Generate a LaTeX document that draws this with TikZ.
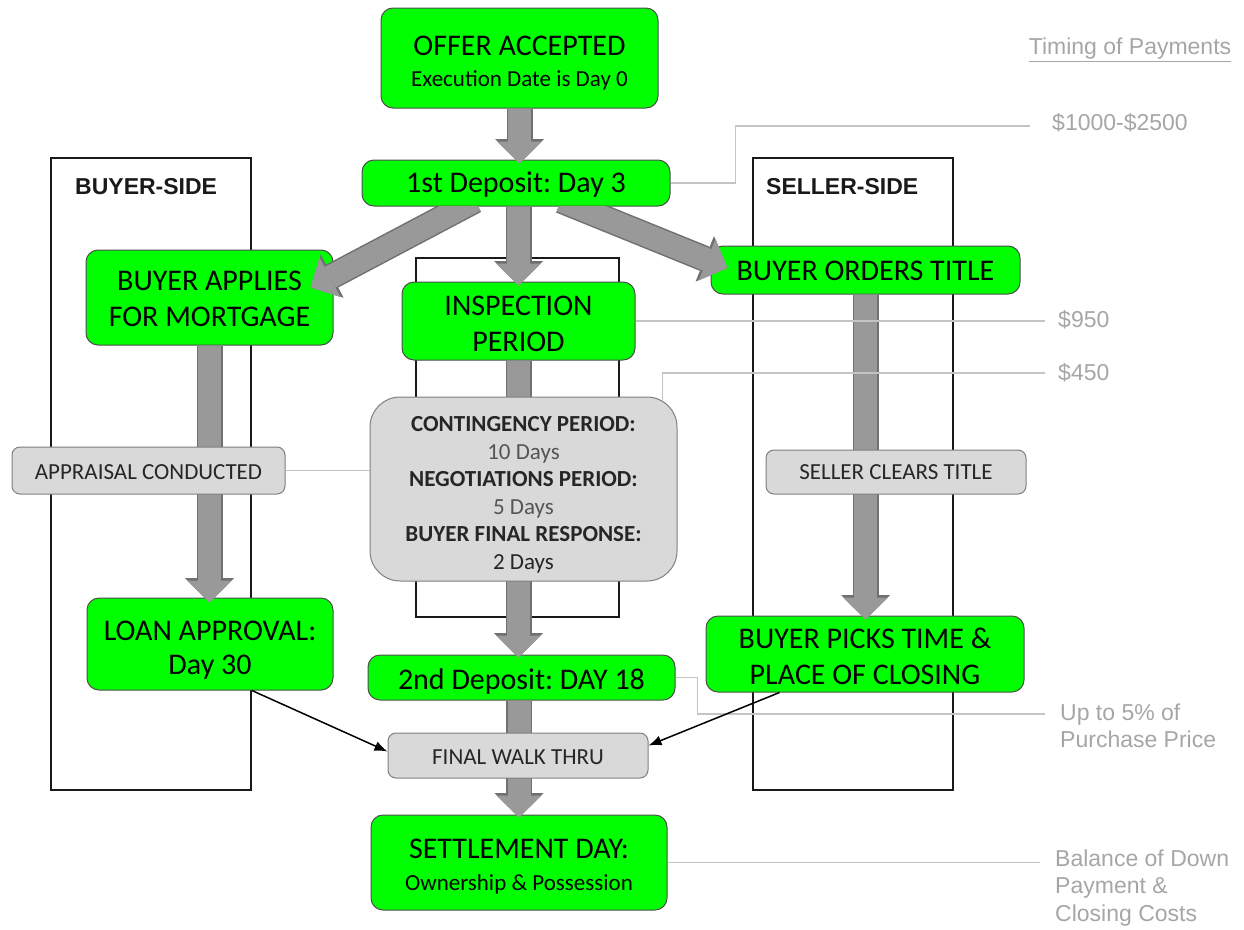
\documentclass[tikz,border=0pt]{standalone}
\usepackage{fontspec}
\setmainfont{Carlito}
\newfontfamily\arialf{Liberation Sans}
\usetikzlibrary{arrows.meta,calc}
\frenchspacing
\definecolor{boxgreen}{HTML}{00FF00}
\definecolor{boxline}{HTML}{4D4D4D}
\definecolor{boxgray}{HTML}{D9D9D9}
\definecolor{grayline}{HTML}{7F7F7F}
\definecolor{arrowfill}{HTML}{999999}
\definecolor{arrowedge}{HTML}{707070}
\definecolor{paylinec}{HTML}{C4C4C4}
\definecolor{paytextc}{HTML}{A6A6A6}
\definecolor{daysgray}{HTML}{555555}
\definecolor{daysdark}{HTML}{262626}
\newcommand\szBig{\fontsize{30}{36}\selectfont}
\newcommand\szSub{\fontsize{23}{27}\selectfont}
\newcommand\szMid{\fontsize{23}{27.5}\selectfont}
\begin{document}
\begin{tikzpicture}[x=1pt,y=-1pt,
  lane/.style={draw=black!90, line width=1.8pt, fill=white, inner sep=0pt},
  lanetitle/.style={font=\arialf\bfseries\fontsize{23}{27}\selectfont, text=black!90, anchor=west, inner sep=0pt},
  greenbox/.style={draw=boxline, fill=boxgreen, rounded corners=12pt, line width=1pt, inner sep=0pt},
  graybox/.style={draw=grayline, fill=boxgray, rounded corners=8pt, line width=1pt, inner sep=0pt},
  contbox/.style={draw=grayline, fill=boxgray, rounded corners=30pt, line width=1pt, inner sep=0pt},
  gtext/.style={inner sep=0pt, align=center, font=\szBig, text=black},
  stext/.style={inner sep=0pt, align=center, font=\szSub, text=daysdark},
  fatback/.style={line width=26pt, draw=arrowedge, -{Triangle[width=49pt,length=24.5pt,line width=0pt]}},
  fat/.style={line width=23pt, draw=arrowfill, -{Triangle[width=45pt,length=22pt,line width=0pt]}, preaction={fatback}},
  thinarr/.style={draw=black, line width=1.5pt, -{Latex[length=13pt,width=10pt]}},
  payline/.style={draw=paylinec, line width=1.2pt},
  paytext/.style={font=\arialf\fontsize{23}{27.5}\selectfont, text=paytextc, anchor=west, align=left, inner sep=0pt},
]
\useasboundingbox (0,0) rectangle (1244,929);

% swim lanes
\node[lane, minimum width=200pt, minimum height=632pt] (blane) at (151,474) {};
\node[lane, minimum width=200pt, minimum height=632pt] (slane) at (853,474) {};
\node[lane, minimum width=203pt, minimum height=359pt] (clane) at (517.5,437.5) {};
\node[lanetitle] (btitle) at (75,187) {BUYER-SIDE};
\node[lanetitle] (stitle) at (766,187) {SELLER-SIDE};

% green steps
\node[greenbox, minimum width=277pt, minimum height=100pt] (offer) at (519.5,58) {};
\node[greenbox, minimum width=308pt, minimum height=46pt] (dep1) at (516,183) {};
\node[greenbox, minimum width=247pt, minimum height=95pt] (apply) at (209.5,297.5) {};
\node[greenbox, minimum width=233pt, minimum height=78pt] (insp) at (518.5,321) {};
\node[greenbox, minimum width=309pt, minimum height=48pt] (order) at (865.5,270) {};
\node[greenbox, minimum width=246pt, minimum height=92pt] (loan) at (210,644) {};
\node[greenbox, minimum width=307pt, minimum height=45pt] (dep2) at (521.5,677.5) {};
\node[greenbox, minimum width=318pt, minimum height=76pt] (picks) at (865,654) {};
\node[greenbox, minimum width=296pt, minimum height=95pt] (settle) at (519,862.5) {};

\node[gtext] (offertxt) at (519.5,63) {OFFER ACCEPTED\\[-5pt]{\szSub Execution Date is Day 0}};
\node[gtext] (dep1txt) at (516,185) {1st Deposit: Day 3};
\node[gtext] (applytxt) at (209.5,299) {BUYER APPLIES\\FOR MORTGAGE};
\node[gtext] (insptxt) at (518.5,323.5) {INSPECTION\\PERIOD};
\node[gtext] (ordertxt) at (865.5,270.5) {BUYER ORDERS TITLE};
\node[gtext] (loantxt) at (210,650) {LOAN APPROVAL:\\[-2pt]Day 30};
\node[gtext] (dep2txt) at (521.5,681) {2nd Deposit: DAY 18};
\node[gtext] (pickstxt) at (865,656) {BUYER PICKS TIME \&\\PLACE OF CLOSING};
\node[gtext] (settletxt) at (519,867) {SETTLEMENT DAY:\\[-4pt]{\szSub Ownership \& Possession}};

% fat arrows
\begin{scope}
  \clip (0,206.6) rectangle (1244,929);
  \draw[fat] ($(dep1.south)+(-41,-6)$) -- ($(apply.east)+(-23,-10)$);
  \draw[fat] ($(dep1.south)+(45,-6)$) -- ($(order.west)+(17,-2)$);
  \draw[fat] (insp.north |- dep1.south) -- ($(insp.north)+(0,4)$);
\end{scope}
\draw[fat] (offer.south) -- ($(offer.south |- dep1.north)+(0,4)$);
\draw[fat] (apply.south) -- ($(apply.south |- loan.north)+(0,5)$);
\draw[fat] (order.south) -- ($(order.south |- picks.north)+(0,4)$);
\draw[fat] (insp.south) -- ($(insp.south |- dep2.north)+(0,3)$);
\draw[fat] (settle.north |- dep2.south) -- ($(settle.north)+(0,3)$);

% gray steps
\node[graybox, minimum width=273pt, minimum height=47pt] (appr) at (148.5,470.5) {};
\node[graybox, minimum width=260pt, minimum height=44pt] (clear) at (896,472) {};
\node[contbox, minimum width=307pt, minimum height=184pt] (cont) at (523.5,489) {};
\node[graybox, minimum width=260pt, minimum height=45pt] (walk) at (518,755.5) {};
\node[stext] (apprtxt) at (148.5,472.5) {APPRAISAL CONDUCTED};
\node[stext] (cleartxt) at (896,472.5) {SELLER CLEARS TITLE};
\node[stext, font=\szMid] (conttxt) at (523.5,495) {\textbf{CONTINGENCY PERIOD:}\\{\color{daysgray}10 Days}\\\textbf{NEGOTIATIONS PERIOD:}\\{\color{daysgray}5 Days}\\\textbf{BUYER FINAL RESPONSE:}\\2 Days};
\node[stext] (walktxt) at (518,757.5) {FINAL WALK THRU};

% payment timing lines
\coordinate (e1000) at (1030,126);
\coordinate (e950) at (1045,320);
\coordinate (e450) at (1045,373);
\coordinate (e5) at (1045,714);
\coordinate (ebal) at (1040,862);
\draw[payline] (dep1.east) -- ++(65,0) |- (e1000);
\draw[payline] (insp.east) -- (insp.east -| e950);
\draw[payline] ($(cont.north east)+(-15,4)$) |- (e450);
\draw[payline] (dep2.east) -- ++(22,0) |- (e5);
\draw[payline] (settle.east) -- (settle.east -| ebal);
\draw[payline] (appr.east) -- (appr.east -| cont.west);

% thin arrows
\draw[thinarr] (blane.east |- loan.south) -- ($(walk.west)+(0,-4)$);
\draw[thinarr] ($(picks.south west)+(74,0)$) -- ($(walk.east)+(0,-10)$);

% payment texts
\node[paytext, anchor=center] (ttitle) at (1130,50) {\underline{Timing of Payments}};
\node[paytext] (t1000) at (1052,123) {\$1000-\$2500};
\node[paytext] (t950) at (1058,320) {\$950};
\node[paytext] (t450) at (1058,373) {\$450};
\node[paytext] (t5) at (1060,726) {Up to 5\% of\\Purchase Price};
\node[paytext] (tbal) at (1055,888) {Balance of Down\\Payment \&\\Closing Costs};
\end{tikzpicture}
\end{document}
